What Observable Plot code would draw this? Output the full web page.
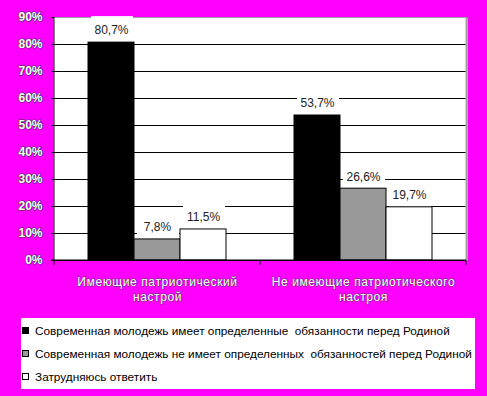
<!DOCTYPE html>
<html><head><meta charset="utf-8">
<script src="https://cdn.jsdelivr.net/npm/d3@7"></script>
<script src="https://cdn.jsdelivr.net/npm/@observablehq/plot@0.6"></script>
<style>
html,body{margin:0;padding:0;background:#ff00ff;}
#wrap{position:relative;width:487px;height:396px;background:#ff00ff;overflow:hidden;font-family:"Liberation Sans",Arial,sans-serif;}
#chart svg{display:block;}
#legend{position:absolute;left:21px;top:318px;width:454px;height:71px;background:#fff;}
.item{position:absolute;left:1px;height:14px;font-size:11.8px;line-height:14px;color:#000;white-space:pre;}
.sw{display:inline-block;width:5px;height:5px;border:1px solid #000;margin-right:6px;vertical-align:1px;}
g[aria-label="fx-axis tick label"] text{letter-spacing:0.6px;}
</style></head><body><div id="wrap"><div id="chart"></div><div id="legend"></div></div>
<script>
const categories = ["Имеющие патриотический настрой", "Не имеющие патриотического настроя"];
const categoryLabels = ["Имеющие патриотический\nнастрой", "Не имеющие патриотического\nнастроя"];
const series = [
  "Современная молодежь имеет определенные  обязанности перед Родиной",
  "Современная молодежь не имеет определенных  обязанностей перед Родиной",
  "Затрудняюсь ответить"
];
const colors = ["#000000", "#999999", "#ffffff"];
const valuesCat1 = [0.807, 0.078, 0.115];
const valuesCat2 = [0.537, 0.266, 0.197];
const yTicks = [0, 0.1, 0.2, 0.3, 0.4, 0.5, 0.6, 0.7, 0.8, 0.9];
const gridTicks = [0.1, 0.2, 0.3, 0.4, 0.5, 0.6, 0.7, 0.8];

const data = [];
[valuesCat1, valuesCat2].forEach((vals, ci) => vals.forEach((v, si) => data.push({cat: categories[ci], s: series[si], value: v})));

const fmt = d => (d.value * 100).toFixed(1).replace(".", ",") + "%";
const FONT = '"Liberation Sans", Arial, sans-serif';

const plot = Plot.plot({
  width: 487, height: 310,
  marginLeft: 54, marginRight: 21, marginTop: 17, marginBottom: 50,
  style: {background: "#ff00ff", fontFamily: FONT, overflow: "visible"},
  fx: {domain: categories, padding: 0, label: null},
  x: {domain: series, paddingInner: 0, paddingOuter: 0.728, axis: null},
  y: {domain: [0, 0.9], label: null},
  color: {domain: series, range: colors},
  marks: [
    Plot.frame({fill: "white", stroke: null, insetLeft: -1, insetRight: -1}),
    Plot.ruleY(gridTicks, {stroke: "black", strokeWidth: 1}),
    Plot.ruleY([0.9], {stroke: "#a0a0a0", strokeWidth: 1}),
    Plot.ruleY([0], {stroke: "black", strokeWidth: 1}),
    Plot.barY(data, {fx: "cat", x: "s", y1: "value", y2: "value", fill: "white", insetTop: -26, insetLeft: 3, insetRight: 1}),
    Plot.barY(data, {fx: "cat", x: "s", y: "value", fill: "s", stroke: "black", strokeWidth: 1}),
    Plot.text(data, {fx: "cat", x: "s", y: "value", text: fmt, dy: -12, fill: "#222", fontSize: 12, fontFamily: FONT}),
    Plot.axisY({ticks: yTicks, tickFormat: d3.format(".0%"), tickSize: 3, tickPadding: 9, stroke: "black",
      fill: "white", textStroke: "#333", textStrokeWidth: 1.1, fontSize: 12, fontWeight: "bold", label: null}),
    Plot.axisFx({anchor: "bottom", tickSize: 0, tickPadding: 14, lineAnchor: "top", fill: "white",
      textStroke: "#444", textStrokeWidth: 0.8, fontSize: 12, lineHeight: 1.3, label: null,
      tickFormat: c => categoryLabels[categories.indexOf(c)]})
  ]
});

// axis lines and category boundary ticks, placed with the plot's own scales
const fx = plot.scale("fx"), y = plot.scale("y");
const y0 = y.apply(0), yTop = y.apply(0.9);
const edges = categories.map(c => fx.apply(c)).concat([fx.apply(categories[categories.length - 1]) + fx.bandwidth]);
const svg = d3.select(plot);
const g = svg.append("g");
g.append("line").attr("x1", edges[0]).attr("x2", edges[0]).attr("y1", yTop).attr("y2", y0 + 5).attr("stroke", "black");
g.append("line").attr("x1", edges[edges.length - 1] + 0.5).attr("x2", edges[edges.length - 1] + 0.5).attr("y1", yTop).attr("y2", y0).attr("stroke", "#a0a0a0").attr("stroke-width", 2);
edges.slice(1).forEach(e => g.append("line").attr("x1", e).attr("x2", e).attr("y1", y0).attr("y2", y0 + 5).attr("stroke", "black"));
g.append("line").attr("x1", edges[0] - 3).attr("x2", edges[edges.length - 1]).attr("y1", y0).attr("y2", y0).attr("stroke", "black");

document.getElementById("chart").appendChild(plot);

const legend = document.getElementById("legend");
series.forEach((s, i) => {
  const it = document.createElement("div");
  it.className = "item";
  it.style.top = (6 + i * 23) + "px";
  const sw = document.createElement("span");
  sw.className = "sw";
  sw.style.background = colors[i];
  it.appendChild(sw);
  it.appendChild(document.createTextNode(s));
  legend.appendChild(it);
});
</script></body></html>
